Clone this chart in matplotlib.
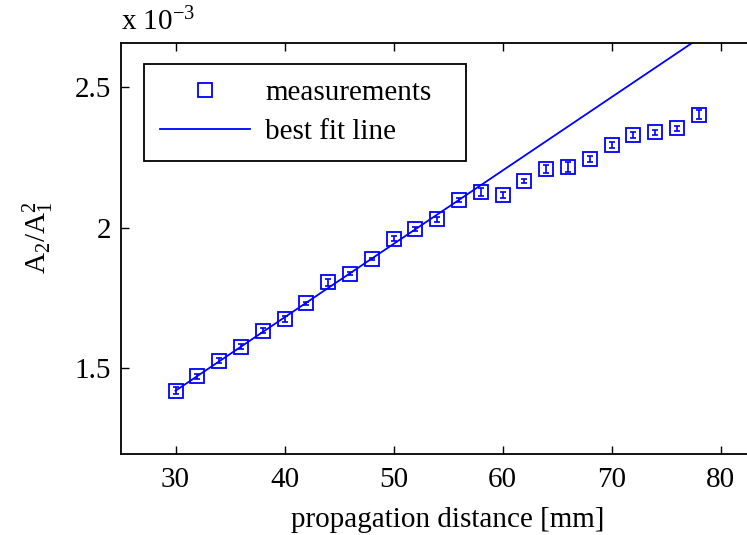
import matplotlib
matplotlib.use("Agg")
import matplotlib.pyplot as plt

plt.rcParams['font.family'] = ['Liberation Serif', 'DejaVu Serif']
plt.rcParams['mathtext.fontset'] = 'custom'
plt.rcParams['mathtext.rm'] = 'Liberation Serif'
plt.rcParams['mathtext.it'] = 'Liberation Serif'

# data (y in units of 1e-3)
distance = [30, 32, 34, 36, 38, 40, 42, 44, 46, 48, 50, 52, 54, 56,
            58, 60, 62, 64, 66, 68, 70, 72, 74, 76, 78]
ratio = [1.420, 1.471, 1.527, 1.577, 1.634, 1.675, 1.731, 1.806, 1.836, 1.889,
         1.961, 1.995, 2.030, 2.099, 2.126, 2.116, 2.167, 2.209, 2.217, 2.245,
         2.295, 2.329, 2.339, 2.353, 2.402]
ratio_err = [0.012, 0.008, 0.008, 0.008, 0.010, 0.012, 0.006, 0.012, 0.006, 0.005,
             0.008, 0.008, 0.008, 0.006, 0.014, 0.012, 0.008, 0.014, 0.018, 0.010,
             0.010, 0.010, 0.010, 0.010, 0.016]
fit_x = [30, 78]
fit_y = [1.420, 2.673]

xticks = [30, 40, 50, 60, 70, 80]
yticks = [1.5, 2.0, 2.5]
ytick_labels = ['1.5', '2', '2.5']

FS = 21

fig = plt.figure(figsize=(7.47, 5.35), dpi=100)
ax = fig.add_axes([121/747, 80.7/535, 654/747, 411.3/535])

blue = (0, 0, 1)
ax.errorbar(distance, ratio, yerr=ratio_err, fmt='none', ecolor=blue,
            elinewidth=1.2, capsize=2.5, capthick=1.2, zorder=2)
ax.plot(distance, ratio, linestyle='none', marker='s', markersize=10.5,
        markerfacecolor='none', markeredgecolor=blue, markeredgewidth=1.3,
        label='measurements', zorder=3)
ax.plot(fit_x, fit_y, color=blue, linewidth=1.3, label='best fit line', zorder=2)

ax.set_xlim(25, 85)
ax.set_ylim(1.194, 2.657)
ax.set_xticks(xticks)
ax.set_yticks(yticks)
ax.set_yticklabels(ytick_labels)
ax.tick_params(direction='in', top=True, right=True, length=6, width=1.0,
               labelsize=FS)
ax.tick_params(axis='x', pad=9)
ax.tick_params(axis='y', pad=7)
for s in ax.spines.values():
    s.set_linewidth(1.3)

ax.set_xlabel('propagation distance [mm]', fontsize=FS, labelpad=10)
ax.set_ylabel(r'A$_2$/A$_1^2$', fontsize=FS)
ax.yaxis.set_label_coords(-0.10, 0.526)

fig.text(121/747, 1 - 22/535, r'x 10$^{-3}$', fontsize=FS, ha='left', va='center')

leg = ax.legend(loc='upper left', bbox_to_anchor=(23/654, 0, 322/654, 1 - 21/411.3),
                mode='expand', borderaxespad=0,
                fontsize=FS, fancybox=False, frameon=True, edgecolor='black',
                framealpha=1, handlelength=3.1, handletextpad=0.5, labelspacing=0.42,
                borderpad=0.55, numpoints=1)
leg.get_frame().set_linewidth(1.3)

fig.savefig('out.png', dpi=100)
